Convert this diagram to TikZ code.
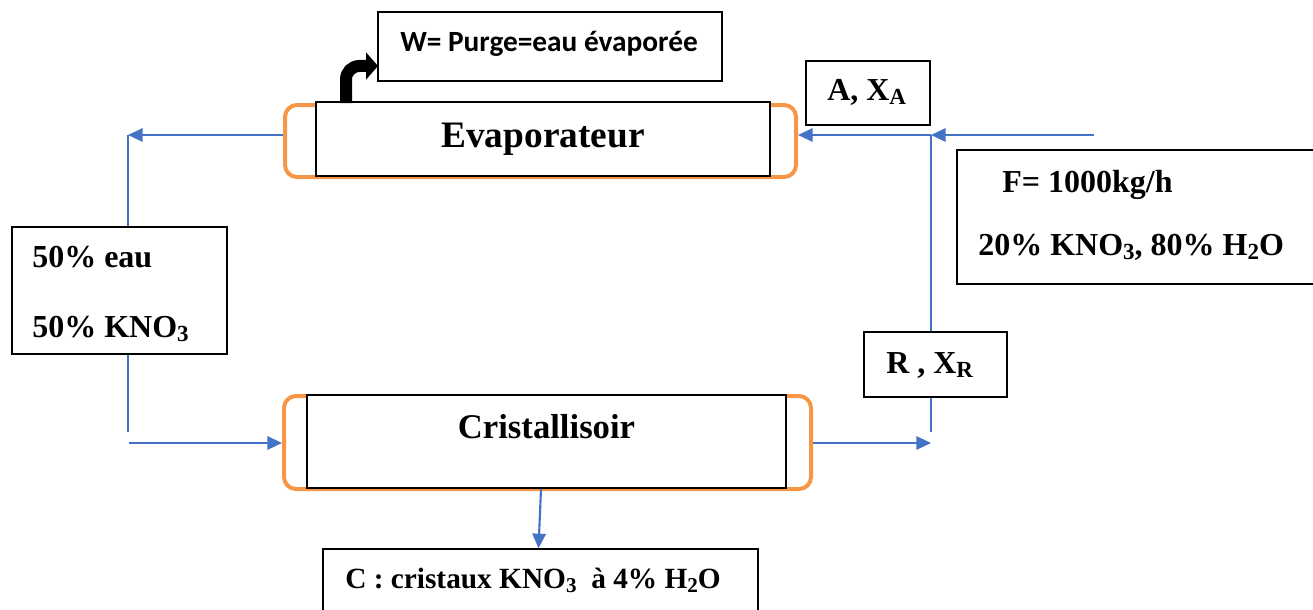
\documentclass[tikz,border=0pt]{standalone}
\usepackage{fontspec}
\setmainfont{Liberation Serif}
\newfontfamily\calib{Carlito}
\usetikzlibrary{arrows.meta}
\definecolor{flowblue}{RGB}{68,114,196}
\definecolor{tankorange}{RGB}{247,150,70}
\newcommand\dn[1]{\raisebox{-0.3ex}{\scalebox{0.72}{#1}}}
\tikzset{
	pbox/.style 2 args={minimum width=#1*0.75pt, minimum height=#2*0.75pt, inner sep=0pt},
	box/.style={draw=black, line width=1pt, fill=white},
	tank/.style={draw=tankorange, line width=3pt, rounded corners=9pt},
	flow/.style={draw=flowblue, line width=1.6pt, -{Triangle[length=11pt,width=10pt]}},
	pipe/.style={draw=flowblue, line width=1.6pt},
	purge/.style={draw=black, line width=9pt, rounded corners=10pt, -{Triangle[length=9pt,width=20pt]}},
	lbl/.style={font=\fontsize{24}{28}\selectfont\bfseries, inner sep=0pt}
}
\begin{document}
\begin{tikzpicture}[x=0.75pt,y=-0.75pt]
			\useasboundingbox (0,0) rectangle (1313,610);
			% vessels
			\node[tank,pbox={511}{72}] (evap) at (540.5,141) {};
			\node[box,pbox={454}{74}] (evapbox) at (543,139) {};
			\node[tank,pbox={527}{93}] (cryst) at (547.5,442.5) {};
			\node[box,pbox={479}{93}] (crystbox) at (546.5,441.5) {};
			% stream boxes
			\node[box,pbox={344}{69}] (wbox) at (550,46.5) {};
			\node[box,pbox={124}{64}] (abox) at (868,93) {};
			\node[box,pbox={363}{134}] (fbox) at (1138.5,217) {};
			\node[box,pbox={143}{65}] (rbox) at (935.5,364.5) {};
			\node[box,pbox={215}{127}] (lbox) at (119.5,290.5) {};
			\node[box,pbox={435}{81}] (cbox) at (540.5,589.5) {};
			
			% texts
			\node[lbl,anchor=base] (evaptxt) at (543,147) {\fontsize{28}{32}\selectfont Evaporateur};
			\node[lbl,anchor=base] (crysttxt) at (546.5,438) {\fontsize{26}{30}\selectfont Cristallisoir};
			\node[lbl,anchor=base west,font=\calib\fontsize{22}{26}\selectfont\bfseries] (wtxt) at (400,52) {W= Purge=eau évaporée};
			\node[lbl,anchor=base west] (atxt) at (827,100) {A, X\dn{A}};
			\node[lbl,anchor=base west] (ftxt) at (1002,192) {F= 1000kg/h};
			\node[lbl,anchor=base west] (fcomp) at (978,255) {20\% KNO\dn{3}, 80\% H\dn{2}O};
			\node[lbl,anchor=base west] (rtxt) at (886,373) {R , X\dn{R}};
			\node[lbl,anchor=base west] (leau) at (32,267) {50\% eau};
			\node[lbl,anchor=base west] (lkno) at (32,337) {50\% KNO\dn{3}};
			\node[lbl,anchor=base west,font=\fontsize{22}{26}\selectfont\bfseries] (ctxt) at (345,588) {C : cristaux KNO\dn{3}\ \ à 4\% H\dn{2}O};
			
			% pipe ends
			\coordinate (fin) at (1094,135);
			\coordinate (split) at (931,135);
			\coordinate (ltop) at (128,135);
			\coordinate (lbot) at (128,432);
			\coordinate (lin) at (129,443);
			\coordinate (rbot) at (931,432);
			\coordinate (rin) at (931,443);
			\coordinate (cout) at (541,489);
			\coordinate (wout) at (346,103);
			\coordinate (wtip) at (378,66);
			
			\draw[flow] (fin) -- (split);
			\draw[flow] (split) -- (evap.east |- split);
			\draw[flow] (evap.west |- ltop) -- (ltop);
			\draw[pipe] (ltop) -- (lbox.north -| ltop);
			\draw[pipe] (lbox.south -| ltop) -- (lbot);
			\draw[flow] (lin) -- (cryst.west |- lin);
			\draw[flow] (cryst.east |- rin) -- (rin);
			\draw[pipe] (rbot) -- (rbox.south -| rbot);
			\draw[pipe] (rbox.north -| split) -- (split);
			\draw[flow] (cout) -- ([xshift=-1.5pt]cbox.north);
			\draw[purge] (wout) |- (wtip);
		\end{tikzpicture}
\end{document}
